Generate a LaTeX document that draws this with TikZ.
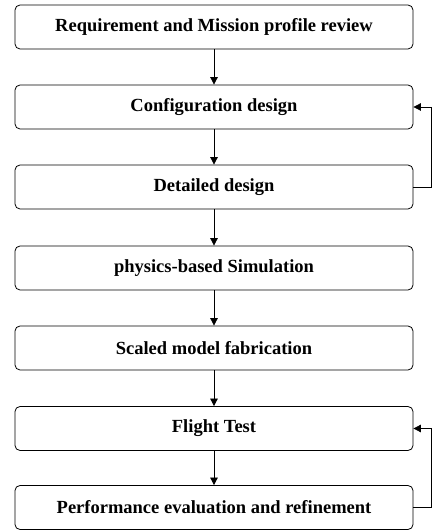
\documentclass[tikz,border=0pt]{standalone}
\usepackage{fontspec}
\setmainfont{Liberation Serif}
\usetikzlibrary{arrows.meta}
\tikzset{
	stage/.style={draw=black, thick, rounded corners=5pt, minimum width=398pt,
		minimum height=44pt, inner sep=0pt, font=\fontsize{18.5}{20}\selectfont\bfseries},
	flow/.style={thick, -{Triangle[length=7.5pt, width=7.5pt]}}
}
\begin{document}
\begin{tikzpicture}[x=1pt, y=1pt]
	\useasboundingbox (0, 0) rectangle (433, 530);
	% Ablauf von oben nach unten
	\node[stage] (req) at (214, 503) {Requirement and Mission profile review};
	\node[stage] (conf) at (214, 423) {Configuration design};
	\node[stage] (det) at (214, 343) {Detailed design};
	\node[stage] (sim) at (214, 262) {physics-based Simulation};
	\node[stage] (fab) at (214, 182) {Scaled model fabrication};
	\node[stage] (test) at (214, 101.5) {Flight Test};
	\node[stage] (perf) at (214, 22.5) {Performance evaluation and refinement};
	% Pfeile
	\draw[flow] (req) -- (conf);
	\draw[flow] (conf) -- (det);
	\draw[flow] (det) -- (sim);
	\draw[flow] (sim) -- (fab);
	\draw[flow] (fab) -- (test);
	\draw[flow] (test) -- (perf);
	% Rueckkopplungen
	\draw[flow] (det.east) -| (431.5, 423) -- (conf.east);
	\draw[flow] (perf.east) -| (431.5, 101.5) -- (test.east);
\end{tikzpicture}
\end{document}
